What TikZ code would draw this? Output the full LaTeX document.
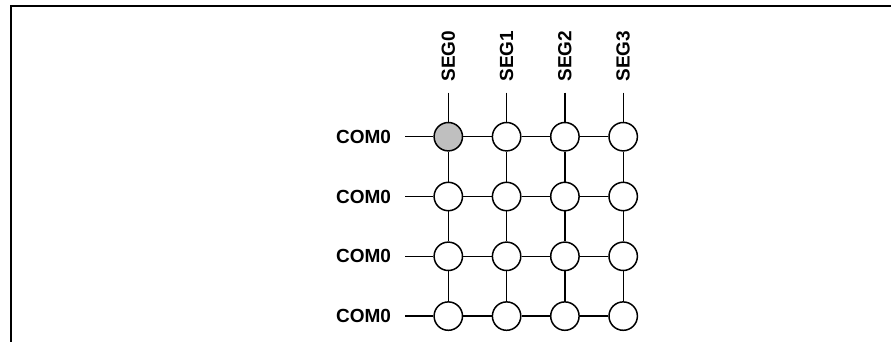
\documentclass[tikz,border=0pt]{standalone}
\usepackage{fontspec}
\setsansfont{Liberation Sans}
\usetikzlibrary{positioning}

\begin{document}
\begin{tikzpicture}[x=0.5pt, y=0.5pt, node distance=14.95pt and 14.2pt,
    cell/.style={draw, circle, line width=0.75pt, fill=white, inner sep=0, minimum size=14.2pt},
    com/.style={font=\sffamily\bfseries\fontsize{9.5}{11}\selectfont, inner xsep=6.9pt, inner ysep=0},
    seg/.style={font=\sffamily\bfseries\fontsize{9.5}{11}\selectfont, rotate=90, inner xsep=5.4pt, inner ysep=0},
    wire/.style={line width=0.6pt}]
    \useasboundingbox (0,0) rectangle (891,-342);
    \draw [line width=1pt] (891,-6.5) -| (11,-342);

    \node [cell, fill=black!25] (c00) at (448.3,-136.7) {};
    \node [cell, right=of c00] (c01) {};
    \node [cell, right=of c01] (c02) {};
    \node [cell, right=of c02] (c03) {};

    \node [cell, below=of c00] (c10) {};
    \node [cell, right=of c10] (c11) {};
    \node [cell, right=of c11] (c12) {};
    \node [cell, right=of c12] (c13) {};

    \node [cell, below=of c10] (c20) {};
    \node [cell, right=of c20] (c21) {};
    \node [cell, right=of c21] (c22) {};
    \node [cell, right=of c22] (c23) {};

    \node [cell, below=of c20] (c30) {};
    \node [cell, right=of c30] (c31) {};
    \node [cell, right=of c31] (c32) {};
    \node [cell, right=of c32] (c33) {};

    \node [com, left=14.1pt of c00] (com0) {COM0};
    \node [com, left=14.1pt of c10] (com1) {COM0};
    \node [com, left=14.1pt of c20] (com2) {COM0};
    \node [com, left=14.1pt of c30] (com3) {COM0};

    \node [seg, above=14.6pt of c00, anchor=west] (seg0) {SEG0};
    \node [seg, above=14.6pt of c01, anchor=west] (seg1) {SEG1};
    \node [seg, above=14.6pt of c02, anchor=west] (seg2) {SEG2};
    \node [seg, above=14.6pt of c03, anchor=west] (seg3) {SEG3};

    \draw [wire] (com0) -- (c00) -- (c01) -- (c02) -- (c03);
    \draw [wire] (com1) -- (c10) -- (c11) -- (c12) -- (c13);
    \draw [wire] (com2) -- (c20) -- (c21) -- (c22) -- (c23);
    \draw [wire] (com3) -- (c30) -- (c31) -- (c32) -- (c33);

    \draw [wire] (seg0) -- (c00) -- (c10) -- (c20) -- (c30);
    \draw [wire] (seg1) -- (c01) -- (c11) -- (c21) -- (c31);
    \draw [wire] (seg2) -- (c02) -- (c12) -- (c22) -- (c32);
    \draw [wire] (seg3) -- (c03) -- (c13) -- (c23) -- (c33);
\end{tikzpicture}
\end{document}
